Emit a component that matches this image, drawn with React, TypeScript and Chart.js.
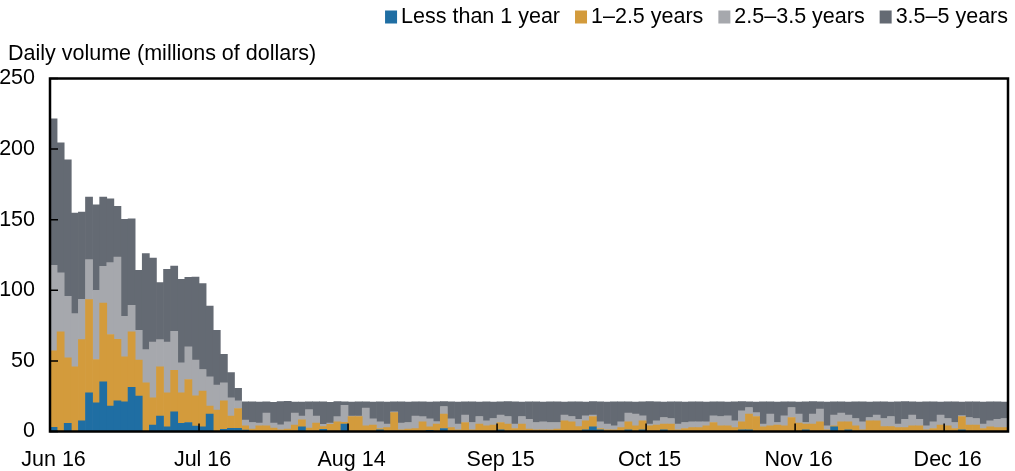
import React, { useEffect, useRef } from "react";
import { Chart, registerables } from "chart.js";

Chart.register(...registerables);

const FONT = "'Liberation Sans', Arial, Helvetica, sans-serif";
const FONT_SIZE = 21.5;

// Business-day categories (bond market days) starting Jun 16
const START_DATE = "2020-06-16";
const HOLIDAYS = ["2020-07-03", "2020-09-07", "2020-10-12", "2020-11-11", "2020-11-26", "2020-12-25"];
const TICK_LABELS = ["Jun 16", "Jul 16", "Aug 14", "Sep 15", "Oct 15", "Nov 16", "Dec 16"];
const TICK_EVERY = 21;
const Y_TICKS = [0, 50, 100, 150, 200, 250];

const SERIES_NAMES = ["Less than 1 year", "1\u20132.5 years", "2.5\u20133.5 years", "3.5\u20135 years"];
const SERIES_COLORS = ["#1f6ea3", "#d39b3c", "#a6a8ad", "#646a73"];

const LESS_1Y = [
  2.9, 0, 5.7, 0, 7.6, 27.4, 20.3, 35.1, 18.0, 21.7, 21.0, 31.2, 25.0, 0, 4.5, 10.9, 3.3, 13.9, 5.7, 6.4, 3.8, 3.3, 12.3, 0, 1.5, 2.2, 2.2,
  1.0, 0, 0, 0, 0, 0, 0, 0, 3.3, 0, 0, 1.5, 0, 0, 5.2, 0, 0, 0, 0, 1.2, 0, 0,
  0, 0, 0, 0, 0.9, 0, 2.1, 0, 0, 0, 0, 0, 0, 0, 1.2, 0, 0, 0, 0, 0, 0,
  0, 0, 0, 0, 0, 1.2, 3.3, 1.2, 0, 0, 0, 1.2, 0, 1.2, 0, 0, 1.2, 0, 0, 0, 0,
  0, 0, 0, 0, 0, 0, 1.2, 1.2, 0, 0, 0, 0, 0, 0, 0, 1.2, 0, 0, 0, 3.3, 0,
  1.2, 0, 0, 0, 0, 0, 0, 0, 0, 0, 0, 0, 0, 0, 0, 0, 1.2, 0, 0, 0, 0, 0, 0,
];

const Y1_25 = [
  54.2, 70.5, 46.4, 45.8, 57.5, 66.0, 30.7, 55.9, 50.7, 43.6, 31.8, 39.3, 25.5, 34.4, 19.3, 34.9, 24.1, 29.5, 21.7, 30.4, 21.4, 25.3, 5.7, 15.1, 20.2, 8.7, 14.1,
  3.0, 1.7, 4.0, 4.0, 2.4, 1.2, 1.7, 4.5, 5.0, 2.5, 6.0, 2.0, 5.0, 6.8, 1.3, 10.6, 10.6, 4.0, 4.5, 0.9, 2.8, 13.4,
  1.2, 1.7, 2.0, 6.8, 2.4, 5.2, 10.2, 2.8, 1.2, 6.4, 1.2, 5.2, 4.0, 4.5, 5.2, 5.2, 2.1, 5.2, 1.7, 1.2, 1.2,
  1.2, 1.7, 7.5, 6.8, 3.5, 6.3, 7.3, 0.9, 1.2, 1.2, 2.8, 5.6, 4.0, 6.3, 4.0, 4.5, 4.0, 5.2, 1.2, 2.1, 2.8,
  2.8, 4.0, 6.4, 4.0, 4.0, 2.8, 5.6, 11.1, 10.6, 3.3, 4.0, 4.5, 4.0, 9.9, 5.9, 4.0, 5.2, 6.8, 1.2, 0.7, 6.8,
  5.6, 4.0, 1.2, 7.5, 7.5, 3.5, 3.5, 2.8, 2.8, 4.0, 4.0, 1.2, 2.1, 4.5, 4.0, 2.1, 9.4, 4.5, 4.5, 2.1, 3.3, 2.8, 2.8,
];

const Y25_35 = [
  60.6, 41.8, 43.7, 37.7, 28.5, 28.3, 49.0, 26.0, 50.9, 58.2, 28.8, 18.9, 21.2, 23.6, 39.6, 19.3, 36.0, 27.6, 21.2, 23.1, 25.3, 15.3, 20.7, 17.7, 12.7, 12.9, 5.4,
  4.0, 4.7, 1.9, 9.0, 3.5, 3.5, 5.1, 8.5, 2.7, 13.0, 5.0, 1.5, 1.0, 3.7, 12.0, 0.4, 0.4, 12.5, 4.5, 4.7, 2.4, 0.6,
  4.8, 4.7, 9.0, 3.7, 5.7, 1.8, 5.4, 6.2, 4.0, 5.2, 5.2, 5.4, 3.5, 4.7, 5.2, 5.4, 3.1, 5.4, 7.0, 5.2, 5.6,
  5.2, 4.7, 4.1, 3.8, 5.2, 3.6, 1.0, 4.7, 4.0, 2.8, 4.0, 6.2, 8.3, 3.6, 1.2, 3.0, 4.7, 4.0, 4.0, 4.3, 4.0,
  4.0, 2.8, 4.7, 6.6, 7.1, 4.7, 7.8, 4.7, 2.8, 1.9, 8.3, 1.9, 7.1, 7.1, 6.4, 1.2, 7.1, 9.0, 2.8, 7.6, 6.2,
  4.8, 5.2, 5.6, 2.4, 4.1, 5.7, 7.1, 2.4, 5.9, 7.6, 4.7, 2.8, 4.7, 7.1, 5.2, 4.3, 0.6, 5.4, 4.7, 3.1, 4.2, 5.9, 6.4,
];

const Y35_5 = [
  103.7, 92.1, 96.6, 71.2, 61.8, 44.3, 60.6, 49.0, 45.2, 35.9, 68.6, 61.3, 42.4, 68.0, 59.5, 40.3, 51.4, 46.2, 59.2, 49.3, 58.9, 60.8, 50.2, 38.9, 20.3, 18.0, 8.8,
  13.0, 14.6, 14.9, 8.0, 14.7, 16.5, 14.5, 7.8, 9.9, 5.5, 10.0, 16.0, 14.7, 10.7, 2.5, 9.8, 10.0, 4.6, 11.9, 14.2, 15.6, 7.0,
  15.0, 14.5, 10.0, 10.6, 11.8, 14.0, 3.5, 12.0, 15.7, 9.4, 14.7, 10.2, 13.5, 11.7, 9.4, 10.6, 15.8, 10.2, 12.3, 14.7, 14.1,
  14.6, 14.6, 9.2, 10.5, 12.3, 9.8, 9.6, 14.2, 15.6, 17.0, 14.3, 8.0, 8.6, 9.9, 16.0, 13.5, 10.9, 11.8, 15.9, 14.5, 14.2,
  14.2, 14.0, 10.0, 10.4, 9.8, 13.5, 6.6, 4.0, 7.4, 15.8, 8.8, 14.5, 9.9, 4.0, 8.5, 14.6, 8.9, 5.2, 16.9, 9.4, 8.1,
  9.3, 11.8, 14.2, 10.9, 9.5, 11.8, 10.3, 15.8, 12.5, 9.4, 12.1, 17.0, 14.3, 9.3, 11.8, 14.6, 9.6, 11.2, 11.8, 15.7, 13.5, 12.3, 11.7,
];

const SERIES = [LESS_1Y, Y1_25, Y25_35, Y35_5];

function buildCategories(count: number): string[] {
  const out: string[] = [];
  const d = new Date(START_DATE + "T00:00:00Z");
  while (out.length < count) {
    const iso = d.toISOString().slice(0, 10);
    const dow = d.getUTCDay();
    if (dow !== 0 && dow !== 6 && !HOLIDAYS.includes(iso)) out.push(iso);
    d.setUTCDate(d.getUTCDate() + 1);
  }
  return out;
}

const decorPlugin = {
  id: "decor",
  afterDatasetsDraw(chart: any) {
    const { ctx, chartArea: a, scales } = chart;
    const n = chart.data.labels.length;
    ctx.save();
    ctx.strokeStyle = "#000";
    ctx.lineWidth = 1.5;
    ctx.beginPath();
    for (const v of Y_TICKS) {
      const y = scales.y.getPixelForValue(v);
      ctx.moveTo(a.left, y);
      ctx.lineTo(a.left + 8, y);
    }
    const bw = (a.right - a.left) / n;
    for (let i = 0; i < n; i += TICK_EVERY) {
      const x = scales.x.getPixelForValue(i) - bw / 2;
      ctx.moveTo(x, a.bottom);
      ctx.lineTo(x, a.bottom - 8);
    }
    ctx.stroke();
    ctx.lineWidth = 2.5;
    ctx.strokeRect(a.left, a.top, a.right - a.left, a.bottom - a.top);
    ctx.restore();
  },
  afterDraw(chart: any) {
    const { ctx } = chart;
    ctx.save();
    ctx.font = `${FONT_SIZE}px ${FONT}`;
    ctx.fillStyle = "#000";
    ctx.textBaseline = "middle";
    ctx.textAlign = "left";
    // axis title
    ctx.fillText("Daily volume (millions of dollars)", 8, 54);
    // legend, right aligned
    const box = 12, gap = 4, itemGap = 15;
    const widths = SERIES_NAMES.map((s) => ctx.measureText(s).width);
    let total = 0;
    widths.forEach((w, i) => { total += box + gap + w + (i < widths.length - 1 ? itemGap : 0); });
    let x = 1008 - total;
    const cy = 17;
    SERIES_NAMES.forEach((name, i) => {
      ctx.fillStyle = SERIES_COLORS[i];
      ctx.fillRect(x, cy - 6.5, box, 13);
      x += box + gap;
      ctx.fillStyle = "#000";
      ctx.fillText(name, x, cy);
      x += widths[i] + itemGap;
    });
    ctx.restore();
  },
};

export default function App() {
  const ref = useRef<HTMLCanvasElement | null>(null);
  useEffect(() => {
    document.body.style.margin = "0";
    const canvas = ref.current!;
    const labels = buildCategories(LESS_1Y.length);
    const chart = new Chart(canvas, {
      type: "bar",
      data: {
        labels,
        datasets: SERIES.map((data, i) => ({
          label: SERIES_NAMES[i],
          data,
          backgroundColor: SERIES_COLORS[i],
          borderWidth: 0,
          barPercentage: 1,
          categoryPercentage: 1,
        })),
      },
      options: {
        responsive: false,
        animation: false,
        devicePixelRatio: 1,
        layout: { padding: { top: 78.5, right: 7, bottom: 0, left: 0 } },
        plugins: { legend: { display: false }, tooltip: { enabled: false }, title: { display: false } },
        scales: {
          x: {
            stacked: true,
            offset: true,
            grid: { display: false },
            border: { display: false },
            ticks: {
              autoSkip: false,
              maxRotation: 0,
              minRotation: 0,
              padding: 8,
              color: "#000",
              font: { family: FONT, size: FONT_SIZE },
              callback: (_v: any, i: number) => (i % TICK_EVERY === 0 ? TICK_LABELS[i / TICK_EVERY] : ""),
            },
            afterFit: (s: any) => { s.height = 39.5; },
          },
          y: {
            stacked: true,
            min: 0,
            max: 250,
            grid: { display: false },
            border: { display: false },
            ticks: {
              stepSize: 50,
              padding: 7,
              color: "#000",
              font: { family: FONT, size: FONT_SIZE },
            },
            afterFit: (s: any) => { s.width = 50; },
          },
        },
      },
      plugins: [decorPlugin],
    });
    return () => chart.destroy();
  }, []);
  return (
    <div style={{ position: "absolute", left: 0, top: 0, width: 1015, height: 471, background: "#fff" }}>
      <canvas ref={ref} width={1015} height={471} style={{ width: 1015, height: 471 }} />
    </div>
  );
}
